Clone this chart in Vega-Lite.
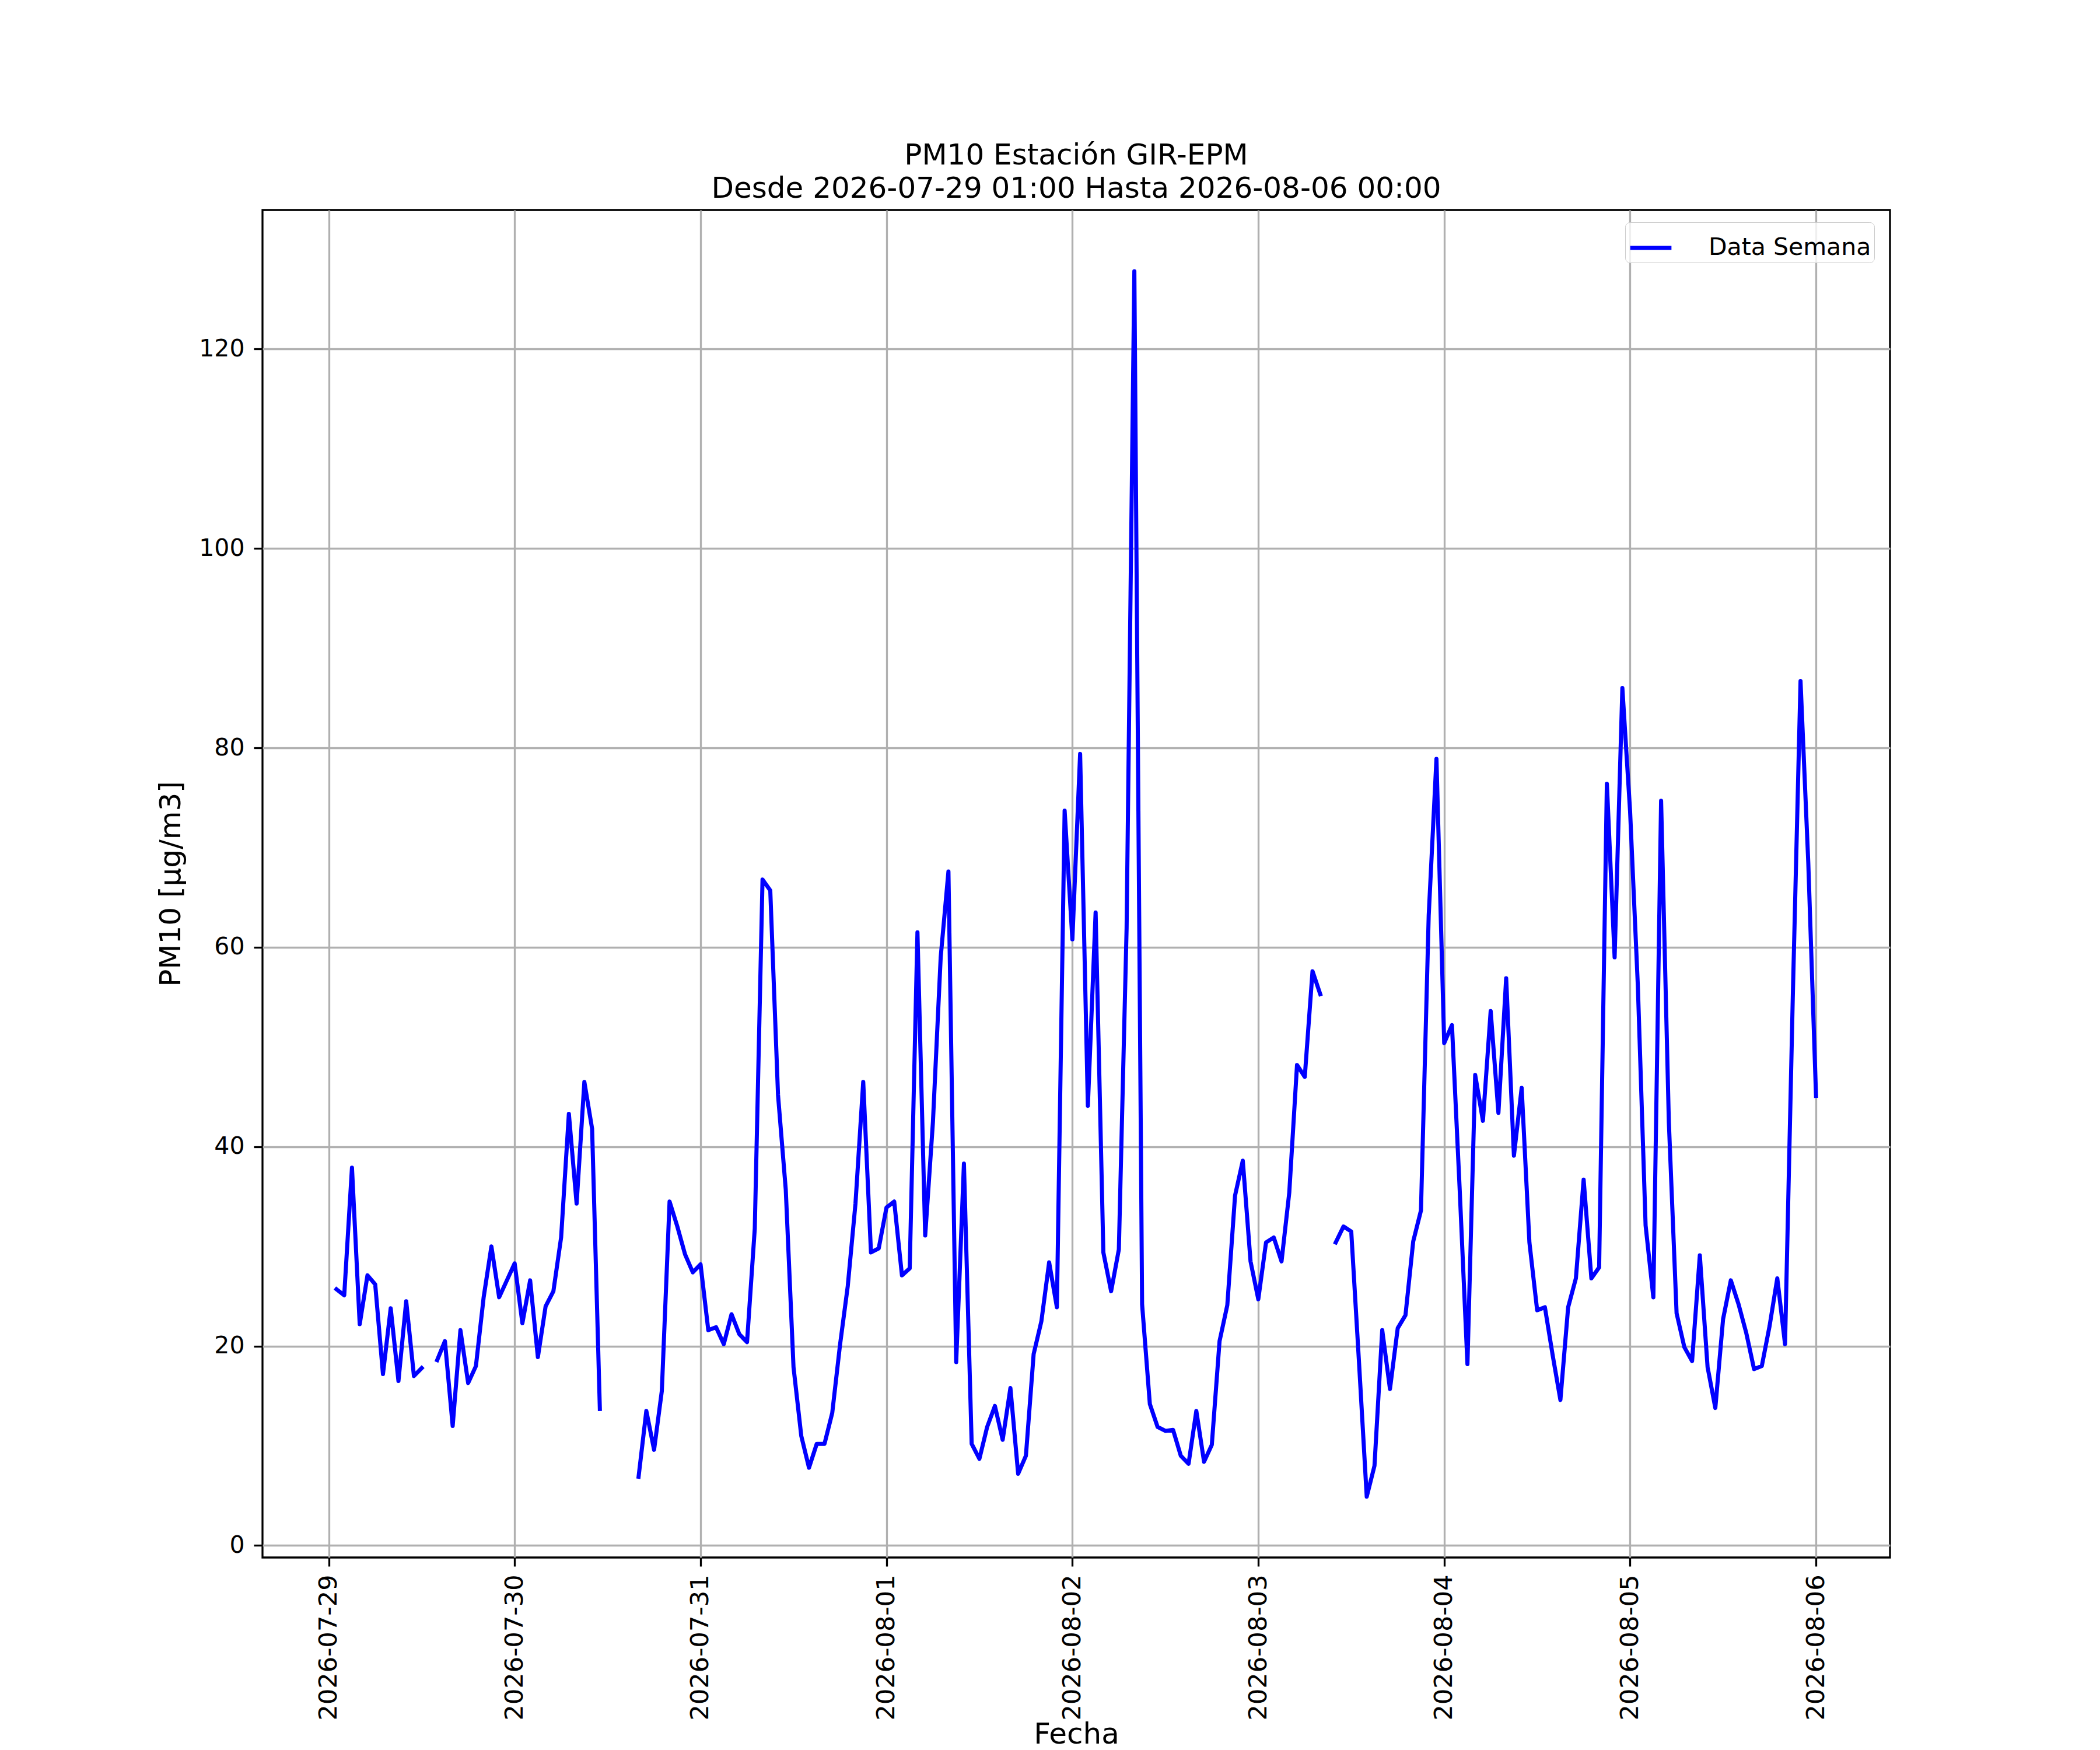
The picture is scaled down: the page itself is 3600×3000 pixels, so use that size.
{
  "$schema": "https://vega.github.io/schema/vega-lite/v6.json",
  "width": 2790,
  "height": 2310,
  "autosize": {"type": "none"},
  "padding": {"left": 450, "top": 360, "right": 360, "bottom": 330},
  "background": "white",
  "title": {
    "text": ["PM10 Estación GIR-EPM", "Desde 2026-07-29 01:00 Hasta 2026-08-06 00:00"],
    "anchor": "middle",
    "font": "DejaVu Sans",
    "fontSize": 50,
    "fontWeight": "normal",
    "color": "black",
    "lineHeight": 57,
    "offset": 11
  },
  "data": {
    "values": [
      {"t": "2026-07-29T01:00", "v": 25.7},
      {"t": "2026-07-29T02:00", "v": 25.1},
      {"t": "2026-07-29T03:00", "v": 37.9},
      {"t": "2026-07-29T04:00", "v": 22.2},
      {"t": "2026-07-29T05:00", "v": 27.1},
      {"t": "2026-07-29T06:00", "v": 26.2},
      {"t": "2026-07-29T07:00", "v": 17.2},
      {"t": "2026-07-29T08:00", "v": 23.8},
      {"t": "2026-07-29T09:00", "v": 16.5},
      {"t": "2026-07-29T10:00", "v": 24.5},
      {"t": "2026-07-29T11:00", "v": 17.0},
      {"t": "2026-07-29T12:00", "v": 17.8},
      {"t": "2026-07-29T13:00", "v": null},
      {"t": "2026-07-29T14:00", "v": 18.6},
      {"t": "2026-07-29T15:00", "v": 20.5},
      {"t": "2026-07-29T16:00", "v": 12.0},
      {"t": "2026-07-29T17:00", "v": 21.6},
      {"t": "2026-07-29T18:00", "v": 16.3},
      {"t": "2026-07-29T19:00", "v": 18.0},
      {"t": "2026-07-29T20:00", "v": 24.9},
      {"t": "2026-07-29T21:00", "v": 30.0},
      {"t": "2026-07-29T22:00", "v": 24.9},
      {"t": "2026-07-29T23:00", "v": 26.6},
      {"t": "2026-07-30T00:00", "v": 28.3},
      {"t": "2026-07-30T01:00", "v": 22.3},
      {"t": "2026-07-30T02:00", "v": 26.6},
      {"t": "2026-07-30T03:00", "v": 18.9},
      {"t": "2026-07-30T04:00", "v": 24.0},
      {"t": "2026-07-30T05:00", "v": 25.5},
      {"t": "2026-07-30T06:00", "v": 30.9},
      {"t": "2026-07-30T07:00", "v": 43.3},
      {"t": "2026-07-30T08:00", "v": 34.3},
      {"t": "2026-07-30T09:00", "v": 46.5},
      {"t": "2026-07-30T10:00", "v": 41.8},
      {"t": "2026-07-30T11:00", "v": 13.7},
      {"t": "2026-07-30T12:00", "v": null},
      {"t": "2026-07-30T13:00", "v": null},
      {"t": "2026-07-30T14:00", "v": null},
      {"t": "2026-07-30T15:00", "v": null},
      {"t": "2026-07-30T16:00", "v": 6.9},
      {"t": "2026-07-30T17:00", "v": 13.5},
      {"t": "2026-07-30T18:00", "v": 9.6},
      {"t": "2026-07-30T19:00", "v": 15.5},
      {"t": "2026-07-30T20:00", "v": 34.5},
      {"t": "2026-07-30T21:00", "v": 32.0},
      {"t": "2026-07-30T22:00", "v": 29.2},
      {"t": "2026-07-30T23:00", "v": 27.4},
      {"t": "2026-07-31T00:00", "v": 28.2},
      {"t": "2026-07-31T01:00", "v": 21.6},
      {"t": "2026-07-31T02:00", "v": 21.9},
      {"t": "2026-07-31T03:00", "v": 20.2},
      {"t": "2026-07-31T04:00", "v": 23.2},
      {"t": "2026-07-31T05:00", "v": 21.2},
      {"t": "2026-07-31T06:00", "v": 20.4},
      {"t": "2026-07-31T07:00", "v": 31.8},
      {"t": "2026-07-31T08:00", "v": 66.8},
      {"t": "2026-07-31T09:00", "v": 65.7},
      {"t": "2026-07-31T10:00", "v": 45.2},
      {"t": "2026-07-31T11:00", "v": 35.7},
      {"t": "2026-07-31T12:00", "v": 17.9},
      {"t": "2026-07-31T13:00", "v": 11.0},
      {"t": "2026-07-31T14:00", "v": 7.8},
      {"t": "2026-07-31T15:00", "v": 10.2},
      {"t": "2026-07-31T16:00", "v": 10.2},
      {"t": "2026-07-31T17:00", "v": 13.3},
      {"t": "2026-07-31T18:00", "v": 20.1},
      {"t": "2026-07-31T19:00", "v": 26.0},
      {"t": "2026-07-31T20:00", "v": 34.3},
      {"t": "2026-07-31T21:00", "v": 46.5},
      {"t": "2026-07-31T22:00", "v": 29.4},
      {"t": "2026-07-31T23:00", "v": 29.8},
      {"t": "2026-08-01T00:00", "v": 33.9},
      {"t": "2026-08-01T01:00", "v": 34.5},
      {"t": "2026-08-01T02:00", "v": 27.1},
      {"t": "2026-08-01T03:00", "v": 27.8},
      {"t": "2026-08-01T04:00", "v": 61.5},
      {"t": "2026-08-01T05:00", "v": 31.1},
      {"t": "2026-08-01T06:00", "v": 42.5},
      {"t": "2026-08-01T07:00", "v": 59.0},
      {"t": "2026-08-01T08:00", "v": 67.6},
      {"t": "2026-08-01T09:00", "v": 18.4},
      {"t": "2026-08-01T10:00", "v": 38.3},
      {"t": "2026-08-01T11:00", "v": 10.2},
      {"t": "2026-08-01T12:00", "v": 8.7},
      {"t": "2026-08-01T13:00", "v": 11.9},
      {"t": "2026-08-01T14:00", "v": 14.0},
      {"t": "2026-08-01T15:00", "v": 10.6},
      {"t": "2026-08-01T16:00", "v": 15.8},
      {"t": "2026-08-01T17:00", "v": 7.2},
      {"t": "2026-08-01T18:00", "v": 9.0},
      {"t": "2026-08-01T19:00", "v": 19.2},
      {"t": "2026-08-01T20:00", "v": 22.5},
      {"t": "2026-08-01T21:00", "v": 28.4},
      {"t": "2026-08-01T22:00", "v": 23.9},
      {"t": "2026-08-01T23:00", "v": 73.7},
      {"t": "2026-08-02T00:00", "v": 60.8},
      {"t": "2026-08-02T01:00", "v": 79.4},
      {"t": "2026-08-02T02:00", "v": 44.1},
      {"t": "2026-08-02T03:00", "v": 63.5},
      {"t": "2026-08-02T04:00", "v": 29.4},
      {"t": "2026-08-02T05:00", "v": 25.5},
      {"t": "2026-08-02T06:00", "v": 29.7},
      {"t": "2026-08-02T07:00", "v": 61.9},
      {"t": "2026-08-02T08:00", "v": 127.8},
      {"t": "2026-08-02T09:00", "v": 24.2},
      {"t": "2026-08-02T10:00", "v": 14.2},
      {"t": "2026-08-02T11:00", "v": 11.9},
      {"t": "2026-08-02T12:00", "v": 11.5},
      {"t": "2026-08-02T13:00", "v": 11.6},
      {"t": "2026-08-02T14:00", "v": 9.0},
      {"t": "2026-08-02T15:00", "v": 8.2},
      {"t": "2026-08-02T16:00", "v": 13.5},
      {"t": "2026-08-02T17:00", "v": 8.4},
      {"t": "2026-08-02T18:00", "v": 10.1},
      {"t": "2026-08-02T19:00", "v": 20.5},
      {"t": "2026-08-02T20:00", "v": 24.1},
      {"t": "2026-08-02T21:00", "v": 35.1},
      {"t": "2026-08-02T22:00", "v": 38.6},
      {"t": "2026-08-02T23:00", "v": 28.5},
      {"t": "2026-08-03T00:00", "v": 24.7},
      {"t": "2026-08-03T01:00", "v": 30.4},
      {"t": "2026-08-03T02:00", "v": 30.9},
      {"t": "2026-08-03T03:00", "v": 28.5},
      {"t": "2026-08-03T04:00", "v": 35.4},
      {"t": "2026-08-03T05:00", "v": 48.2},
      {"t": "2026-08-03T06:00", "v": 47.0},
      {"t": "2026-08-03T07:00", "v": 57.6},
      {"t": "2026-08-03T08:00", "v": 55.3},
      {"t": "2026-08-03T09:00", "v": null},
      {"t": "2026-08-03T10:00", "v": 30.4},
      {"t": "2026-08-03T11:00", "v": 32.0},
      {"t": "2026-08-03T12:00", "v": 31.5},
      {"t": "2026-08-03T13:00", "v": 18.4},
      {"t": "2026-08-03T14:00", "v": 4.9},
      {"t": "2026-08-03T15:00", "v": 8.0},
      {"t": "2026-08-03T16:00", "v": 21.6},
      {"t": "2026-08-03T17:00", "v": 15.7},
      {"t": "2026-08-03T18:00", "v": 21.8},
      {"t": "2026-08-03T19:00", "v": 23.1},
      {"t": "2026-08-03T20:00", "v": 30.5},
      {"t": "2026-08-03T21:00", "v": 33.6},
      {"t": "2026-08-03T22:00", "v": 63.2},
      {"t": "2026-08-03T23:00", "v": 78.9},
      {"t": "2026-08-04T00:00", "v": 50.4},
      {"t": "2026-08-04T01:00", "v": 52.2},
      {"t": "2026-08-04T02:00", "v": 35.7},
      {"t": "2026-08-04T03:00", "v": 18.2},
      {"t": "2026-08-04T04:00", "v": 47.2},
      {"t": "2026-08-04T05:00", "v": 42.6},
      {"t": "2026-08-04T06:00", "v": 53.6},
      {"t": "2026-08-04T07:00", "v": 43.4},
      {"t": "2026-08-04T08:00", "v": 56.9},
      {"t": "2026-08-04T09:00", "v": 39.1},
      {"t": "2026-08-04T10:00", "v": 45.9},
      {"t": "2026-08-04T11:00", "v": 30.4},
      {"t": "2026-08-04T12:00", "v": 23.6},
      {"t": "2026-08-04T13:00", "v": 23.9},
      {"t": "2026-08-04T14:00", "v": 19.1},
      {"t": "2026-08-04T15:00", "v": 14.6},
      {"t": "2026-08-04T16:00", "v": 23.9},
      {"t": "2026-08-04T17:00", "v": 26.8},
      {"t": "2026-08-04T18:00", "v": 36.7},
      {"t": "2026-08-04T19:00", "v": 26.8},
      {"t": "2026-08-04T20:00", "v": 27.9},
      {"t": "2026-08-04T21:00", "v": 76.4},
      {"t": "2026-08-04T22:00", "v": 59.0},
      {"t": "2026-08-04T23:00", "v": 86.0},
      {"t": "2026-08-05T00:00", "v": 73.6},
      {"t": "2026-08-05T01:00", "v": 56.1},
      {"t": "2026-08-05T02:00", "v": 32.1},
      {"t": "2026-08-05T03:00", "v": 24.9},
      {"t": "2026-08-05T04:00", "v": 74.7},
      {"t": "2026-08-05T05:00", "v": 42.5},
      {"t": "2026-08-05T06:00", "v": 23.3},
      {"t": "2026-08-05T07:00", "v": 19.9},
      {"t": "2026-08-05T08:00", "v": 18.5},
      {"t": "2026-08-05T09:00", "v": 29.1},
      {"t": "2026-08-05T10:00", "v": 17.9},
      {"t": "2026-08-05T11:00", "v": 13.8},
      {"t": "2026-08-05T12:00", "v": 22.7},
      {"t": "2026-08-05T13:00", "v": 26.6},
      {"t": "2026-08-05T14:00", "v": 24.2},
      {"t": "2026-08-05T15:00", "v": 21.3},
      {"t": "2026-08-05T16:00", "v": 17.7},
      {"t": "2026-08-05T17:00", "v": 18.0},
      {"t": "2026-08-05T18:00", "v": 22.0},
      {"t": "2026-08-05T19:00", "v": 26.8},
      {"t": "2026-08-05T20:00", "v": 20.2},
      {"t": "2026-08-05T21:00", "v": 55.0},
      {"t": "2026-08-05T22:00", "v": 86.7},
      {"t": "2026-08-05T23:00", "v": 68.5},
      {"t": "2026-08-06T00:00", "v": 45.1}
    ]
  },
  "mark": {
    "type": "line",
    "strokeWidth": 7,
    "strokeJoin": "round",
    "strokeCap": "square",
    "invalid": "break-paths-show-domains"
  },
  "encoding": {
    "x": {
      "field": "t",
      "type": "temporal",
      "scale": {
        "domain": [
          {"year": 2026, "month": 7, "date": 28, "hours": 15, "minutes": 27},
          {"year": 2026, "month": 8, "date": 6, "hours": 9, "minutes": 33}
        ]
      },
      "axis": {
        "title": "Fecha",
        "format": "%Y-%m-%d",
        "tickCount": {"interval": "day", "step": 1},
        "labelAngle": 270,
        "labelLimit": 0,
        "labelFontSize": 43,
        "labelPadding": 14,
        "titleY": 318,
        "titleBaseline": "alphabetic"
      }
    },
    "y": {
      "field": "v",
      "type": "quantitative",
      "scale": {"domain": [-1.2, 133.95], "nice": false, "zero": false},
      "axis": {
        "title": "PM10 [μg/m3]",
        "values": [0, 20, 40, 60, 80, 100, 120],
        "labelFontSize": 41,
        "labelPadding": 16,
        "titlePadding": 22
      }
    },
    "color": {
      "datum": "Data Semana",
      "type": "nominal",
      "scale": {"range": ["#0000ff"]},
      "legend": {
        "title": null,
        "orient": "none",
        "legendX": 2336,
        "legendY": 21,
        "symbolType": "stroke",
        "symbolSize": 5000,
        "symbolStrokeWidth": 7,
        "labelOffset": 60,
        "labelLimit": 0,
        "labelFontSize": 41,
        "labelFont": "DejaVu Sans",
        "labelColor": "black",
        "padding": 5,
        "strokeColor": "#cccccc",
        "fillColor": "rgba(255,255,255,0.8)",
        "cornerRadius": 8
      }
    }
  },
  "config": {
    "view": {"stroke": "black", "strokeWidth": 3.3},
    "axis": {
      "domain": false,
      "grid": true,
      "gridColor": "#b0b0b0",
      "gridWidth": 3.3,
      "gridOpacity": 1,
      "ticks": true,
      "tickColor": "black",
      "tickWidth": 3.3,
      "tickSize": 15,
      "labelFont": "DejaVu Sans",
      "labelColor": "black",
      "titleFont": "DejaVu Sans",
      "titleFontSize": 50,
      "titleFontWeight": "normal",
      "titleColor": "black"
    }
  }
}
